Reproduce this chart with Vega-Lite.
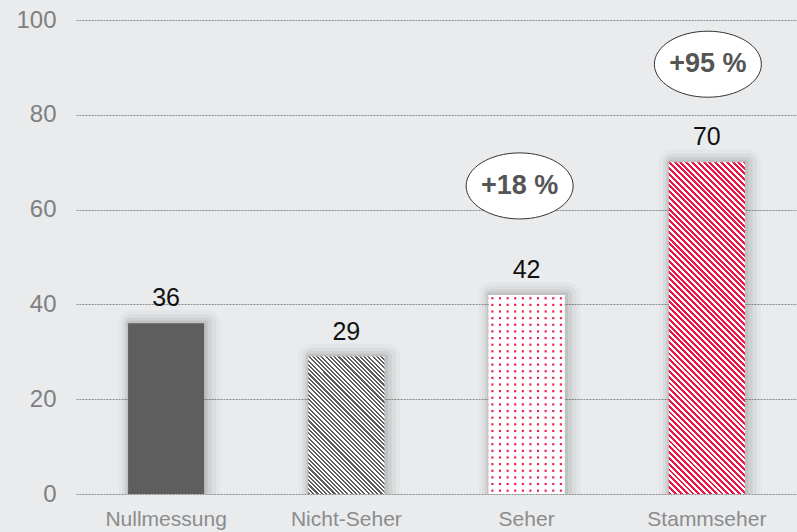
{
 "$schema": "https://vega.github.io/schema/vega-lite/v6.json",
 "width": 721, "height": 474,
 "autosize": {"type": "none"},
 "padding": {"left": 76, "top": 20, "right": 0, "bottom": 38},
 "background": "#e9ebed",
 "config": {"view": {"stroke": null}, "font": "Liberation Sans"},
 "datasets": {
  "balken": [
   {"gruppe": "Nullmessung", "wert": 36},
   {"gruppe": "Nicht-Seher", "wert": 29},
   {"gruppe": "Seher", "wert": 42},
   {"gruppe": "Stammseher", "wert": 70}
  ],
  "anstieg": [
   {"gruppe": "Seher", "wert": 42, "anstieg": "+18 %"},
   {"gruppe": "Stammseher", "wert": 70, "anstieg": "+95 %"}
  ]
 },
 "data": {"name": "balken"},
 "encoding": {
  "x": {"field": "gruppe", "type": "nominal",
   "scale": {"domain": ["Nullmessung", "Nicht-Seher", "Seher", "Stammseher"], "paddingInner": 0.578, "paddingOuter": 0.289},
   "axis": {"title": null, "domain": false, "ticks": false, "labelFontSize": 21, "labelColor": "#8c8c8c", "labelPadding": 14, "labelAngle": 0, "labelFont": "Liberation Sans"}},
  "y": {"field": "wert", "type": "quantitative",
   "scale": {"domain": [0, 100], "nice": false},
   "axis": {"title": null, "domain": false, "ticks": false, "values": [0, 20, 40, 60, 80, 100], "labelFontSize": 24, "labelColor": "#808080", "labelPadding": 20, "labelFont": "Liberation Sans", "gridColor": "#8a8a8a", "gridDash": [2, 1], "gridWidth": 1, "gridOpacity": 1}}
 },
 "layer": [
  {"mark": {"type": "bar", "fillOpacity": 0, "stroke": "#000000", "strokeOpacity": 0.025, "strokeWidth": 26, "strokeJoin": "round", "clip": true, "xOffset": 3}},
  {"mark": {"type": "bar", "fillOpacity": 0, "stroke": "#000000", "strokeOpacity": 0.035, "strokeWidth": 18, "strokeJoin": "round", "clip": true, "xOffset": 3}},
  {"mark": {"type": "bar", "fillOpacity": 0, "stroke": "#000000", "strokeOpacity": 0.05, "strokeWidth": 11, "strokeJoin": "round", "clip": true, "xOffset": 2}},
  {"mark": {"type": "bar", "fillOpacity": 0, "stroke": "#000000", "strokeOpacity": 0.07, "strokeWidth": 5, "strokeJoin": "round", "clip": true, "xOffset": 1}},
  {"transform": [{"filter": "datum.gruppe === 'Nullmessung'"}], "mark": {"type": "bar", "color": "#5e5e5e"}},
  {"transform": [{"filter": "datum.gruppe === 'Nicht-Seher'"}], "mark": {"type": "bar", "fill": {"gradient": "linear", "x1": 0, "y1": 1, "x2": 0.6581, "y2": -0.1892, "stops": [
   {"offset":0,"color":"#5c5c5c"},{"offset":0.01,"color":"#5c5c5c"},{"offset":0.01,"color":"#ffffff"},{"offset":0.02,"color":"#ffffff"},{"offset":0.02,"color":"#5c5c5c"},{"offset":0.03,"color":"#5c5c5c"},{"offset":0.03,"color":"#ffffff"},{"offset":0.04,"color":"#ffffff"},{"offset":0.04,"color":"#5c5c5c"},{"offset":0.05,"color":"#5c5c5c"},{"offset":0.05,"color":"#ffffff"},{"offset":0.06,"color":"#ffffff"},{"offset":0.06,"color":"#5c5c5c"},{"offset":0.07,"color":"#5c5c5c"},{"offset":0.07,"color":"#ffffff"},{"offset":0.08,"color":"#ffffff"},{"offset":0.08,"color":"#5c5c5c"},{"offset":0.09,"color":"#5c5c5c"},{"offset":0.09,"color":"#ffffff"},{"offset":0.1,"color":"#ffffff"},
   {"offset":0.1,"color":"#5c5c5c"},{"offset":0.11,"color":"#5c5c5c"},{"offset":0.11,"color":"#ffffff"},{"offset":0.12,"color":"#ffffff"},{"offset":0.12,"color":"#5c5c5c"},{"offset":0.13,"color":"#5c5c5c"},{"offset":0.13,"color":"#ffffff"},{"offset":0.14,"color":"#ffffff"},{"offset":0.14,"color":"#5c5c5c"},{"offset":0.15,"color":"#5c5c5c"},{"offset":0.15,"color":"#ffffff"},{"offset":0.16,"color":"#ffffff"},{"offset":0.16,"color":"#5c5c5c"},{"offset":0.17,"color":"#5c5c5c"},{"offset":0.17,"color":"#ffffff"},{"offset":0.18,"color":"#ffffff"},{"offset":0.18,"color":"#5c5c5c"},{"offset":0.19,"color":"#5c5c5c"},{"offset":0.19,"color":"#ffffff"},{"offset":0.2,"color":"#ffffff"},
   {"offset":0.2,"color":"#5c5c5c"},{"offset":0.21,"color":"#5c5c5c"},{"offset":0.21,"color":"#ffffff"},{"offset":0.22,"color":"#ffffff"},{"offset":0.22,"color":"#5c5c5c"},{"offset":0.23,"color":"#5c5c5c"},{"offset":0.23,"color":"#ffffff"},{"offset":0.24,"color":"#ffffff"},{"offset":0.24,"color":"#5c5c5c"},{"offset":0.25,"color":"#5c5c5c"},{"offset":0.25,"color":"#ffffff"},{"offset":0.26,"color":"#ffffff"},{"offset":0.26,"color":"#5c5c5c"},{"offset":0.27,"color":"#5c5c5c"},{"offset":0.27,"color":"#ffffff"},{"offset":0.28,"color":"#ffffff"},{"offset":0.28,"color":"#5c5c5c"},{"offset":0.29,"color":"#5c5c5c"},{"offset":0.29,"color":"#ffffff"},{"offset":0.3,"color":"#ffffff"},
   {"offset":0.3,"color":"#5c5c5c"},{"offset":0.31,"color":"#5c5c5c"},{"offset":0.31,"color":"#ffffff"},{"offset":0.32,"color":"#ffffff"},{"offset":0.32,"color":"#5c5c5c"},{"offset":0.33,"color":"#5c5c5c"},{"offset":0.33,"color":"#ffffff"},{"offset":0.34,"color":"#ffffff"},{"offset":0.34,"color":"#5c5c5c"},{"offset":0.35,"color":"#5c5c5c"},{"offset":0.35,"color":"#ffffff"},{"offset":0.36,"color":"#ffffff"},{"offset":0.36,"color":"#5c5c5c"},{"offset":0.37,"color":"#5c5c5c"},{"offset":0.37,"color":"#ffffff"},{"offset":0.38,"color":"#ffffff"},{"offset":0.38,"color":"#5c5c5c"},{"offset":0.39,"color":"#5c5c5c"},{"offset":0.39,"color":"#ffffff"},{"offset":0.4,"color":"#ffffff"},
   {"offset":0.4,"color":"#5c5c5c"},{"offset":0.41,"color":"#5c5c5c"},{"offset":0.41,"color":"#ffffff"},{"offset":0.42,"color":"#ffffff"},{"offset":0.42,"color":"#5c5c5c"},{"offset":0.43,"color":"#5c5c5c"},{"offset":0.43,"color":"#ffffff"},{"offset":0.44,"color":"#ffffff"},{"offset":0.44,"color":"#5c5c5c"},{"offset":0.45,"color":"#5c5c5c"},{"offset":0.45,"color":"#ffffff"},{"offset":0.46,"color":"#ffffff"},{"offset":0.46,"color":"#5c5c5c"},{"offset":0.47,"color":"#5c5c5c"},{"offset":0.47,"color":"#ffffff"},{"offset":0.48,"color":"#ffffff"},{"offset":0.48,"color":"#5c5c5c"},{"offset":0.49,"color":"#5c5c5c"},{"offset":0.49,"color":"#ffffff"},{"offset":0.5,"color":"#ffffff"},
   {"offset":0.5,"color":"#5c5c5c"},{"offset":0.51,"color":"#5c5c5c"},{"offset":0.51,"color":"#ffffff"},{"offset":0.52,"color":"#ffffff"},{"offset":0.52,"color":"#5c5c5c"},{"offset":0.53,"color":"#5c5c5c"},{"offset":0.53,"color":"#ffffff"},{"offset":0.54,"color":"#ffffff"},{"offset":0.54,"color":"#5c5c5c"},{"offset":0.55,"color":"#5c5c5c"},{"offset":0.55,"color":"#ffffff"},{"offset":0.56,"color":"#ffffff"},{"offset":0.56,"color":"#5c5c5c"},{"offset":0.57,"color":"#5c5c5c"},{"offset":0.57,"color":"#ffffff"},{"offset":0.58,"color":"#ffffff"},{"offset":0.58,"color":"#5c5c5c"},{"offset":0.59,"color":"#5c5c5c"},{"offset":0.59,"color":"#ffffff"},{"offset":0.6,"color":"#ffffff"},
   {"offset":0.6,"color":"#5c5c5c"},{"offset":0.61,"color":"#5c5c5c"},{"offset":0.61,"color":"#ffffff"},{"offset":0.62,"color":"#ffffff"},{"offset":0.62,"color":"#5c5c5c"},{"offset":0.63,"color":"#5c5c5c"},{"offset":0.63,"color":"#ffffff"},{"offset":0.64,"color":"#ffffff"},{"offset":0.64,"color":"#5c5c5c"},{"offset":0.65,"color":"#5c5c5c"},{"offset":0.65,"color":"#ffffff"},{"offset":0.66,"color":"#ffffff"},{"offset":0.66,"color":"#5c5c5c"},{"offset":0.67,"color":"#5c5c5c"},{"offset":0.67,"color":"#ffffff"},{"offset":0.68,"color":"#ffffff"},{"offset":0.68,"color":"#5c5c5c"},{"offset":0.69,"color":"#5c5c5c"},{"offset":0.69,"color":"#ffffff"},{"offset":0.7,"color":"#ffffff"},
   {"offset":0.7,"color":"#5c5c5c"},{"offset":0.71,"color":"#5c5c5c"},{"offset":0.71,"color":"#ffffff"},{"offset":0.72,"color":"#ffffff"},{"offset":0.72,"color":"#5c5c5c"},{"offset":0.73,"color":"#5c5c5c"},{"offset":0.73,"color":"#ffffff"},{"offset":0.74,"color":"#ffffff"},{"offset":0.74,"color":"#5c5c5c"},{"offset":0.75,"color":"#5c5c5c"},{"offset":0.75,"color":"#ffffff"},{"offset":0.76,"color":"#ffffff"},{"offset":0.76,"color":"#5c5c5c"},{"offset":0.77,"color":"#5c5c5c"},{"offset":0.77,"color":"#ffffff"},{"offset":0.78,"color":"#ffffff"},{"offset":0.78,"color":"#5c5c5c"},{"offset":0.79,"color":"#5c5c5c"},{"offset":0.79,"color":"#ffffff"},{"offset":0.8,"color":"#ffffff"},
   {"offset":0.8,"color":"#5c5c5c"},{"offset":0.81,"color":"#5c5c5c"},{"offset":0.81,"color":"#ffffff"},{"offset":0.82,"color":"#ffffff"},{"offset":0.82,"color":"#5c5c5c"},{"offset":0.83,"color":"#5c5c5c"},{"offset":0.83,"color":"#ffffff"},{"offset":0.84,"color":"#ffffff"},{"offset":0.84,"color":"#5c5c5c"},{"offset":0.85,"color":"#5c5c5c"},{"offset":0.85,"color":"#ffffff"},{"offset":0.86,"color":"#ffffff"},{"offset":0.86,"color":"#5c5c5c"},{"offset":0.87,"color":"#5c5c5c"},{"offset":0.87,"color":"#ffffff"},{"offset":0.88,"color":"#ffffff"},{"offset":0.88,"color":"#5c5c5c"},{"offset":0.89,"color":"#5c5c5c"},{"offset":0.89,"color":"#ffffff"},{"offset":0.9,"color":"#ffffff"},
   {"offset":0.9,"color":"#5c5c5c"},{"offset":0.91,"color":"#5c5c5c"},{"offset":0.91,"color":"#ffffff"},{"offset":0.92,"color":"#ffffff"},{"offset":0.92,"color":"#5c5c5c"},{"offset":0.93,"color":"#5c5c5c"},{"offset":0.93,"color":"#ffffff"},{"offset":0.94,"color":"#ffffff"},{"offset":0.94,"color":"#5c5c5c"},{"offset":0.95,"color":"#5c5c5c"},{"offset":0.95,"color":"#ffffff"},{"offset":0.96,"color":"#ffffff"},{"offset":0.96,"color":"#5c5c5c"},{"offset":0.97,"color":"#5c5c5c"},{"offset":0.97,"color":"#ffffff"},{"offset":0.98,"color":"#ffffff"},{"offset":0.98,"color":"#5c5c5c"},{"offset":0.99,"color":"#5c5c5c"},{"offset":0.99,"color":"#ffffff"},{"offset":1,"color":"#ffffff"}
  ]}}},
  {"transform": [{"filter": "datum.gruppe === 'Seher'"}], "mark": {"type": "bar", "fill": {"gradient": "linear", "x1": 0, "y1": 0, "x2": 1, "y2": 0, "stops": [
   {"offset":0,"color":"#ffffff"},
   {"offset":0.03,"color":"#ffffff"},{"offset":0.042,"color":"#f01e50"},{"offset":0.058,"color":"#f01e50"},{"offset":0.07,"color":"#ffffff"},
   {"offset":0.13,"color":"#ffffff"},{"offset":0.142,"color":"#f01e50"},{"offset":0.158,"color":"#f01e50"},{"offset":0.17,"color":"#ffffff"},
   {"offset":0.23,"color":"#ffffff"},{"offset":0.242,"color":"#f01e50"},{"offset":0.258,"color":"#f01e50"},{"offset":0.27,"color":"#ffffff"},
   {"offset":0.33,"color":"#ffffff"},{"offset":0.342,"color":"#f01e50"},{"offset":0.358,"color":"#f01e50"},{"offset":0.37,"color":"#ffffff"},
   {"offset":0.43,"color":"#ffffff"},{"offset":0.442,"color":"#f01e50"},{"offset":0.458,"color":"#f01e50"},{"offset":0.47,"color":"#ffffff"},
   {"offset":0.53,"color":"#ffffff"},{"offset":0.542,"color":"#f01e50"},{"offset":0.558,"color":"#f01e50"},{"offset":0.57,"color":"#ffffff"},
   {"offset":0.63,"color":"#ffffff"},{"offset":0.642,"color":"#f01e50"},{"offset":0.658,"color":"#f01e50"},{"offset":0.67,"color":"#ffffff"},
   {"offset":0.73,"color":"#ffffff"},{"offset":0.742,"color":"#f01e50"},{"offset":0.758,"color":"#f01e50"},{"offset":0.77,"color":"#ffffff"},
   {"offset":0.83,"color":"#ffffff"},{"offset":0.842,"color":"#f01e50"},{"offset":0.858,"color":"#f01e50"},{"offset":0.87,"color":"#ffffff"},
   {"offset":0.93,"color":"#ffffff"},{"offset":0.942,"color":"#f01e50"},{"offset":0.958,"color":"#f01e50"},{"offset":0.97,"color":"#ffffff"},
   {"offset":1,"color":"#ffffff"}
  ]}}},
  {"transform": [{"filter": "datum.gruppe === 'Seher'"}], "mark": {"type": "bar", "fill": {"gradient": "linear", "x1": 0, "y1": 0, "x2": 0, "y2": 1, "stops": [
   {"offset":0,"color":"rgba(255,255,255,1)"},
   {"offset":0.0087,"color":"rgba(255,255,255,1)"},{"offset":0.0137,"color":"rgba(255,255,255,0)"},{"offset":0.0197,"color":"rgba(255,255,255,0)"},{"offset":0.0247,"color":"rgba(255,255,255,1)"},
   {"offset":0.042,"color":"rgba(255,255,255,1)"},{"offset":0.047,"color":"rgba(255,255,255,0)"},{"offset":0.053,"color":"rgba(255,255,255,0)"},{"offset":0.058,"color":"rgba(255,255,255,1)"},
   {"offset":0.0753,"color":"rgba(255,255,255,1)"},{"offset":0.0803,"color":"rgba(255,255,255,0)"},{"offset":0.0863,"color":"rgba(255,255,255,0)"},{"offset":0.0913,"color":"rgba(255,255,255,1)"},
   {"offset":0.1087,"color":"rgba(255,255,255,1)"},{"offset":0.1137,"color":"rgba(255,255,255,0)"},{"offset":0.1197,"color":"rgba(255,255,255,0)"},{"offset":0.1247,"color":"rgba(255,255,255,1)"},
   {"offset":0.142,"color":"rgba(255,255,255,1)"},{"offset":0.147,"color":"rgba(255,255,255,0)"},{"offset":0.153,"color":"rgba(255,255,255,0)"},{"offset":0.158,"color":"rgba(255,255,255,1)"},
   {"offset":0.1753,"color":"rgba(255,255,255,1)"},{"offset":0.1803,"color":"rgba(255,255,255,0)"},{"offset":0.1863,"color":"rgba(255,255,255,0)"},{"offset":0.1913,"color":"rgba(255,255,255,1)"},
   {"offset":0.2087,"color":"rgba(255,255,255,1)"},{"offset":0.2137,"color":"rgba(255,255,255,0)"},{"offset":0.2197,"color":"rgba(255,255,255,0)"},{"offset":0.2247,"color":"rgba(255,255,255,1)"},
   {"offset":0.242,"color":"rgba(255,255,255,1)"},{"offset":0.247,"color":"rgba(255,255,255,0)"},{"offset":0.253,"color":"rgba(255,255,255,0)"},{"offset":0.258,"color":"rgba(255,255,255,1)"},
   {"offset":0.2753,"color":"rgba(255,255,255,1)"},{"offset":0.2803,"color":"rgba(255,255,255,0)"},{"offset":0.2863,"color":"rgba(255,255,255,0)"},{"offset":0.2913,"color":"rgba(255,255,255,1)"},
   {"offset":0.3087,"color":"rgba(255,255,255,1)"},{"offset":0.3137,"color":"rgba(255,255,255,0)"},{"offset":0.3197,"color":"rgba(255,255,255,0)"},{"offset":0.3247,"color":"rgba(255,255,255,1)"},
   {"offset":0.342,"color":"rgba(255,255,255,1)"},{"offset":0.347,"color":"rgba(255,255,255,0)"},{"offset":0.353,"color":"rgba(255,255,255,0)"},{"offset":0.358,"color":"rgba(255,255,255,1)"},
   {"offset":0.3753,"color":"rgba(255,255,255,1)"},{"offset":0.3803,"color":"rgba(255,255,255,0)"},{"offset":0.3863,"color":"rgba(255,255,255,0)"},{"offset":0.3913,"color":"rgba(255,255,255,1)"},
   {"offset":0.4087,"color":"rgba(255,255,255,1)"},{"offset":0.4137,"color":"rgba(255,255,255,0)"},{"offset":0.4197,"color":"rgba(255,255,255,0)"},{"offset":0.4247,"color":"rgba(255,255,255,1)"},
   {"offset":0.442,"color":"rgba(255,255,255,1)"},{"offset":0.447,"color":"rgba(255,255,255,0)"},{"offset":0.453,"color":"rgba(255,255,255,0)"},{"offset":0.458,"color":"rgba(255,255,255,1)"},
   {"offset":0.4753,"color":"rgba(255,255,255,1)"},{"offset":0.4803,"color":"rgba(255,255,255,0)"},{"offset":0.4863,"color":"rgba(255,255,255,0)"},{"offset":0.4913,"color":"rgba(255,255,255,1)"},
   {"offset":0.5087,"color":"rgba(255,255,255,1)"},{"offset":0.5137,"color":"rgba(255,255,255,0)"},{"offset":0.5197,"color":"rgba(255,255,255,0)"},{"offset":0.5247,"color":"rgba(255,255,255,1)"},
   {"offset":0.542,"color":"rgba(255,255,255,1)"},{"offset":0.547,"color":"rgba(255,255,255,0)"},{"offset":0.553,"color":"rgba(255,255,255,0)"},{"offset":0.558,"color":"rgba(255,255,255,1)"},
   {"offset":0.5753,"color":"rgba(255,255,255,1)"},{"offset":0.5803,"color":"rgba(255,255,255,0)"},{"offset":0.5863,"color":"rgba(255,255,255,0)"},{"offset":0.5913,"color":"rgba(255,255,255,1)"},
   {"offset":0.6087,"color":"rgba(255,255,255,1)"},{"offset":0.6137,"color":"rgba(255,255,255,0)"},{"offset":0.6197,"color":"rgba(255,255,255,0)"},{"offset":0.6247,"color":"rgba(255,255,255,1)"},
   {"offset":0.642,"color":"rgba(255,255,255,1)"},{"offset":0.647,"color":"rgba(255,255,255,0)"},{"offset":0.653,"color":"rgba(255,255,255,0)"},{"offset":0.658,"color":"rgba(255,255,255,1)"},
   {"offset":0.6753,"color":"rgba(255,255,255,1)"},{"offset":0.6803,"color":"rgba(255,255,255,0)"},{"offset":0.6863,"color":"rgba(255,255,255,0)"},{"offset":0.6913,"color":"rgba(255,255,255,1)"},
   {"offset":0.7087,"color":"rgba(255,255,255,1)"},{"offset":0.7137,"color":"rgba(255,255,255,0)"},{"offset":0.7197,"color":"rgba(255,255,255,0)"},{"offset":0.7247,"color":"rgba(255,255,255,1)"},
   {"offset":0.742,"color":"rgba(255,255,255,1)"},{"offset":0.747,"color":"rgba(255,255,255,0)"},{"offset":0.753,"color":"rgba(255,255,255,0)"},{"offset":0.758,"color":"rgba(255,255,255,1)"},
   {"offset":0.7753,"color":"rgba(255,255,255,1)"},{"offset":0.7803,"color":"rgba(255,255,255,0)"},{"offset":0.7863,"color":"rgba(255,255,255,0)"},{"offset":0.7913,"color":"rgba(255,255,255,1)"},
   {"offset":0.8087,"color":"rgba(255,255,255,1)"},{"offset":0.8137,"color":"rgba(255,255,255,0)"},{"offset":0.8197,"color":"rgba(255,255,255,0)"},{"offset":0.8247,"color":"rgba(255,255,255,1)"},
   {"offset":0.842,"color":"rgba(255,255,255,1)"},{"offset":0.847,"color":"rgba(255,255,255,0)"},{"offset":0.853,"color":"rgba(255,255,255,0)"},{"offset":0.858,"color":"rgba(255,255,255,1)"},
   {"offset":0.8753,"color":"rgba(255,255,255,1)"},{"offset":0.8803,"color":"rgba(255,255,255,0)"},{"offset":0.8863,"color":"rgba(255,255,255,0)"},{"offset":0.8913,"color":"rgba(255,255,255,1)"},
   {"offset":0.9087,"color":"rgba(255,255,255,1)"},{"offset":0.9137,"color":"rgba(255,255,255,0)"},{"offset":0.9197,"color":"rgba(255,255,255,0)"},{"offset":0.9247,"color":"rgba(255,255,255,1)"},
   {"offset":0.942,"color":"rgba(255,255,255,1)"},{"offset":0.947,"color":"rgba(255,255,255,0)"},{"offset":0.953,"color":"rgba(255,255,255,0)"},{"offset":0.958,"color":"rgba(255,255,255,1)"},
   {"offset":0.9753,"color":"rgba(255,255,255,1)"},{"offset":0.9803,"color":"rgba(255,255,255,0)"},{"offset":0.9863,"color":"rgba(255,255,255,0)"},{"offset":0.9913,"color":"rgba(255,255,255,1)"},
   {"offset":1,"color":"rgba(255,255,255,1)"}
  ]}}},
  {"transform": [{"filter": "datum.gruppe === 'Stammseher'"}], "mark": {"type": "bar", "fill": {"gradient": "linear", "x1": 0, "y1": 1, "x2": 0.3806, "y2": -0.6603, "stops": [
   {"offset":0,"color":"#ee1446"},{"offset":0.005,"color":"#ee1446"},{"offset":0.005,"color":"#ffffff"},{"offset":0.01,"color":"#ffffff"},{"offset":0.01,"color":"#ee1446"},{"offset":0.015,"color":"#ee1446"},{"offset":0.015,"color":"#ffffff"},{"offset":0.02,"color":"#ffffff"},{"offset":0.02,"color":"#ee1446"},{"offset":0.025,"color":"#ee1446"},{"offset":0.025,"color":"#ffffff"},{"offset":0.03,"color":"#ffffff"},{"offset":0.03,"color":"#ee1446"},{"offset":0.035,"color":"#ee1446"},{"offset":0.035,"color":"#ffffff"},{"offset":0.04,"color":"#ffffff"},{"offset":0.04,"color":"#ee1446"},{"offset":0.045,"color":"#ee1446"},{"offset":0.045,"color":"#ffffff"},{"offset":0.05,"color":"#ffffff"},
   {"offset":0.05,"color":"#ee1446"},{"offset":0.055,"color":"#ee1446"},{"offset":0.055,"color":"#ffffff"},{"offset":0.06,"color":"#ffffff"},{"offset":0.06,"color":"#ee1446"},{"offset":0.065,"color":"#ee1446"},{"offset":0.065,"color":"#ffffff"},{"offset":0.07,"color":"#ffffff"},{"offset":0.07,"color":"#ee1446"},{"offset":0.075,"color":"#ee1446"},{"offset":0.075,"color":"#ffffff"},{"offset":0.08,"color":"#ffffff"},{"offset":0.08,"color":"#ee1446"},{"offset":0.085,"color":"#ee1446"},{"offset":0.085,"color":"#ffffff"},{"offset":0.09,"color":"#ffffff"},{"offset":0.09,"color":"#ee1446"},{"offset":0.095,"color":"#ee1446"},{"offset":0.095,"color":"#ffffff"},{"offset":0.1,"color":"#ffffff"},
   {"offset":0.1,"color":"#ee1446"},{"offset":0.105,"color":"#ee1446"},{"offset":0.105,"color":"#ffffff"},{"offset":0.11,"color":"#ffffff"},{"offset":0.11,"color":"#ee1446"},{"offset":0.115,"color":"#ee1446"},{"offset":0.115,"color":"#ffffff"},{"offset":0.12,"color":"#ffffff"},{"offset":0.12,"color":"#ee1446"},{"offset":0.125,"color":"#ee1446"},{"offset":0.125,"color":"#ffffff"},{"offset":0.13,"color":"#ffffff"},{"offset":0.13,"color":"#ee1446"},{"offset":0.135,"color":"#ee1446"},{"offset":0.135,"color":"#ffffff"},{"offset":0.14,"color":"#ffffff"},{"offset":0.14,"color":"#ee1446"},{"offset":0.145,"color":"#ee1446"},{"offset":0.145,"color":"#ffffff"},{"offset":0.15,"color":"#ffffff"},
   {"offset":0.15,"color":"#ee1446"},{"offset":0.155,"color":"#ee1446"},{"offset":0.155,"color":"#ffffff"},{"offset":0.16,"color":"#ffffff"},{"offset":0.16,"color":"#ee1446"},{"offset":0.165,"color":"#ee1446"},{"offset":0.165,"color":"#ffffff"},{"offset":0.17,"color":"#ffffff"},{"offset":0.17,"color":"#ee1446"},{"offset":0.175,"color":"#ee1446"},{"offset":0.175,"color":"#ffffff"},{"offset":0.18,"color":"#ffffff"},{"offset":0.18,"color":"#ee1446"},{"offset":0.185,"color":"#ee1446"},{"offset":0.185,"color":"#ffffff"},{"offset":0.19,"color":"#ffffff"},{"offset":0.19,"color":"#ee1446"},{"offset":0.195,"color":"#ee1446"},{"offset":0.195,"color":"#ffffff"},{"offset":0.2,"color":"#ffffff"},
   {"offset":0.2,"color":"#ee1446"},{"offset":0.205,"color":"#ee1446"},{"offset":0.205,"color":"#ffffff"},{"offset":0.21,"color":"#ffffff"},{"offset":0.21,"color":"#ee1446"},{"offset":0.215,"color":"#ee1446"},{"offset":0.215,"color":"#ffffff"},{"offset":0.22,"color":"#ffffff"},{"offset":0.22,"color":"#ee1446"},{"offset":0.225,"color":"#ee1446"},{"offset":0.225,"color":"#ffffff"},{"offset":0.23,"color":"#ffffff"},{"offset":0.23,"color":"#ee1446"},{"offset":0.235,"color":"#ee1446"},{"offset":0.235,"color":"#ffffff"},{"offset":0.24,"color":"#ffffff"},{"offset":0.24,"color":"#ee1446"},{"offset":0.245,"color":"#ee1446"},{"offset":0.245,"color":"#ffffff"},{"offset":0.25,"color":"#ffffff"},
   {"offset":0.25,"color":"#ee1446"},{"offset":0.255,"color":"#ee1446"},{"offset":0.255,"color":"#ffffff"},{"offset":0.26,"color":"#ffffff"},{"offset":0.26,"color":"#ee1446"},{"offset":0.265,"color":"#ee1446"},{"offset":0.265,"color":"#ffffff"},{"offset":0.27,"color":"#ffffff"},{"offset":0.27,"color":"#ee1446"},{"offset":0.275,"color":"#ee1446"},{"offset":0.275,"color":"#ffffff"},{"offset":0.28,"color":"#ffffff"},{"offset":0.28,"color":"#ee1446"},{"offset":0.285,"color":"#ee1446"},{"offset":0.285,"color":"#ffffff"},{"offset":0.29,"color":"#ffffff"},{"offset":0.29,"color":"#ee1446"},{"offset":0.295,"color":"#ee1446"},{"offset":0.295,"color":"#ffffff"},{"offset":0.3,"color":"#ffffff"},
   {"offset":0.3,"color":"#ee1446"},{"offset":0.305,"color":"#ee1446"},{"offset":0.305,"color":"#ffffff"},{"offset":0.31,"color":"#ffffff"},{"offset":0.31,"color":"#ee1446"},{"offset":0.315,"color":"#ee1446"},{"offset":0.315,"color":"#ffffff"},{"offset":0.32,"color":"#ffffff"},{"offset":0.32,"color":"#ee1446"},{"offset":0.325,"color":"#ee1446"},{"offset":0.325,"color":"#ffffff"},{"offset":0.33,"color":"#ffffff"},{"offset":0.33,"color":"#ee1446"},{"offset":0.335,"color":"#ee1446"},{"offset":0.335,"color":"#ffffff"},{"offset":0.34,"color":"#ffffff"},{"offset":0.34,"color":"#ee1446"},{"offset":0.345,"color":"#ee1446"},{"offset":0.345,"color":"#ffffff"},{"offset":0.35,"color":"#ffffff"},
   {"offset":0.35,"color":"#ee1446"},{"offset":0.355,"color":"#ee1446"},{"offset":0.355,"color":"#ffffff"},{"offset":0.36,"color":"#ffffff"},{"offset":0.36,"color":"#ee1446"},{"offset":0.365,"color":"#ee1446"},{"offset":0.365,"color":"#ffffff"},{"offset":0.37,"color":"#ffffff"},{"offset":0.37,"color":"#ee1446"},{"offset":0.375,"color":"#ee1446"},{"offset":0.375,"color":"#ffffff"},{"offset":0.38,"color":"#ffffff"},{"offset":0.38,"color":"#ee1446"},{"offset":0.385,"color":"#ee1446"},{"offset":0.385,"color":"#ffffff"},{"offset":0.39,"color":"#ffffff"},{"offset":0.39,"color":"#ee1446"},{"offset":0.395,"color":"#ee1446"},{"offset":0.395,"color":"#ffffff"},{"offset":0.4,"color":"#ffffff"},
   {"offset":0.4,"color":"#ee1446"},{"offset":0.405,"color":"#ee1446"},{"offset":0.405,"color":"#ffffff"},{"offset":0.41,"color":"#ffffff"},{"offset":0.41,"color":"#ee1446"},{"offset":0.415,"color":"#ee1446"},{"offset":0.415,"color":"#ffffff"},{"offset":0.42,"color":"#ffffff"},{"offset":0.42,"color":"#ee1446"},{"offset":0.425,"color":"#ee1446"},{"offset":0.425,"color":"#ffffff"},{"offset":0.43,"color":"#ffffff"},{"offset":0.43,"color":"#ee1446"},{"offset":0.435,"color":"#ee1446"},{"offset":0.435,"color":"#ffffff"},{"offset":0.44,"color":"#ffffff"},{"offset":0.44,"color":"#ee1446"},{"offset":0.445,"color":"#ee1446"},{"offset":0.445,"color":"#ffffff"},{"offset":0.45,"color":"#ffffff"},
   {"offset":0.45,"color":"#ee1446"},{"offset":0.455,"color":"#ee1446"},{"offset":0.455,"color":"#ffffff"},{"offset":0.46,"color":"#ffffff"},{"offset":0.46,"color":"#ee1446"},{"offset":0.465,"color":"#ee1446"},{"offset":0.465,"color":"#ffffff"},{"offset":0.47,"color":"#ffffff"},{"offset":0.47,"color":"#ee1446"},{"offset":0.475,"color":"#ee1446"},{"offset":0.475,"color":"#ffffff"},{"offset":0.48,"color":"#ffffff"},{"offset":0.48,"color":"#ee1446"},{"offset":0.485,"color":"#ee1446"},{"offset":0.485,"color":"#ffffff"},{"offset":0.49,"color":"#ffffff"},{"offset":0.49,"color":"#ee1446"},{"offset":0.495,"color":"#ee1446"},{"offset":0.495,"color":"#ffffff"},{"offset":0.5,"color":"#ffffff"},
   {"offset":0.5,"color":"#ee1446"},{"offset":0.505,"color":"#ee1446"},{"offset":0.505,"color":"#ffffff"},{"offset":0.51,"color":"#ffffff"},{"offset":0.51,"color":"#ee1446"},{"offset":0.515,"color":"#ee1446"},{"offset":0.515,"color":"#ffffff"},{"offset":0.52,"color":"#ffffff"},{"offset":0.52,"color":"#ee1446"},{"offset":0.525,"color":"#ee1446"},{"offset":0.525,"color":"#ffffff"},{"offset":0.53,"color":"#ffffff"},{"offset":0.53,"color":"#ee1446"},{"offset":0.535,"color":"#ee1446"},{"offset":0.535,"color":"#ffffff"},{"offset":0.54,"color":"#ffffff"},{"offset":0.54,"color":"#ee1446"},{"offset":0.545,"color":"#ee1446"},{"offset":0.545,"color":"#ffffff"},{"offset":0.55,"color":"#ffffff"},
   {"offset":0.55,"color":"#ee1446"},{"offset":0.555,"color":"#ee1446"},{"offset":0.555,"color":"#ffffff"},{"offset":0.56,"color":"#ffffff"},{"offset":0.56,"color":"#ee1446"},{"offset":0.565,"color":"#ee1446"},{"offset":0.565,"color":"#ffffff"},{"offset":0.57,"color":"#ffffff"},{"offset":0.57,"color":"#ee1446"},{"offset":0.575,"color":"#ee1446"},{"offset":0.575,"color":"#ffffff"},{"offset":0.58,"color":"#ffffff"},{"offset":0.58,"color":"#ee1446"},{"offset":0.585,"color":"#ee1446"},{"offset":0.585,"color":"#ffffff"},{"offset":0.59,"color":"#ffffff"},{"offset":0.59,"color":"#ee1446"},{"offset":0.595,"color":"#ee1446"},{"offset":0.595,"color":"#ffffff"},{"offset":0.6,"color":"#ffffff"},
   {"offset":0.6,"color":"#ee1446"},{"offset":0.605,"color":"#ee1446"},{"offset":0.605,"color":"#ffffff"},{"offset":0.61,"color":"#ffffff"},{"offset":0.61,"color":"#ee1446"},{"offset":0.615,"color":"#ee1446"},{"offset":0.615,"color":"#ffffff"},{"offset":0.62,"color":"#ffffff"},{"offset":0.62,"color":"#ee1446"},{"offset":0.625,"color":"#ee1446"},{"offset":0.625,"color":"#ffffff"},{"offset":0.63,"color":"#ffffff"},{"offset":0.63,"color":"#ee1446"},{"offset":0.635,"color":"#ee1446"},{"offset":0.635,"color":"#ffffff"},{"offset":0.64,"color":"#ffffff"},{"offset":0.64,"color":"#ee1446"},{"offset":0.645,"color":"#ee1446"},{"offset":0.645,"color":"#ffffff"},{"offset":0.65,"color":"#ffffff"},
   {"offset":0.65,"color":"#ee1446"},{"offset":0.655,"color":"#ee1446"},{"offset":0.655,"color":"#ffffff"},{"offset":0.66,"color":"#ffffff"},{"offset":0.66,"color":"#ee1446"},{"offset":0.665,"color":"#ee1446"},{"offset":0.665,"color":"#ffffff"},{"offset":0.67,"color":"#ffffff"},{"offset":0.67,"color":"#ee1446"},{"offset":0.675,"color":"#ee1446"},{"offset":0.675,"color":"#ffffff"},{"offset":0.68,"color":"#ffffff"},{"offset":0.68,"color":"#ee1446"},{"offset":0.685,"color":"#ee1446"},{"offset":0.685,"color":"#ffffff"},{"offset":0.69,"color":"#ffffff"},{"offset":0.69,"color":"#ee1446"},{"offset":0.695,"color":"#ee1446"},{"offset":0.695,"color":"#ffffff"},{"offset":0.7,"color":"#ffffff"},
   {"offset":0.7,"color":"#ee1446"},{"offset":0.705,"color":"#ee1446"},{"offset":0.705,"color":"#ffffff"},{"offset":0.71,"color":"#ffffff"}
  ]}}},
  {"mark": {"type": "text", "baseline": "alphabetic", "dy": -17, "fontSize": 25, "color": "#111111", "font": "Liberation Sans"},
   "encoding": {"text": {"field": "wert", "type": "quantitative"}}},
  {"data": {"name": "anstieg"}, "transform": [{"filter": "datum.gruppe === 'Seher'"}],
   "mark": {"type": "point", "shape": "M-1,0A1,0.617 0 1,1 1,0A1,0.617 0 1,1 -1,0Z", "size": 11449, "filled": true, "fill": "#ffffff", "fillOpacity": 1, "stroke": "#333333", "strokeWidth": 1, "opacity": 1, "xOffset": -7, "yOffset": -109}},
  {"data": {"name": "anstieg"}, "transform": [{"filter": "datum.gruppe === 'Seher'"}],
   "mark": {"type": "text", "baseline": "middle", "fontSize": 27, "fontWeight": "bold", "color": "#555555", "font": "Liberation Sans", "xOffset": -7, "yOffset": -109},
   "encoding": {"text": {"field": "anstieg", "type": "nominal"}}},
  {"data": {"name": "anstieg"}, "transform": [{"filter": "datum.gruppe === 'Stammseher'"}],
   "mark": {"type": "point", "shape": "M-1,0A1,0.617 0 1,1 1,0A1,0.617 0 1,1 -1,0Z", "size": 11449, "filled": true, "fill": "#ffffff", "fillOpacity": 1, "stroke": "#333333", "strokeWidth": 1, "opacity": 1, "xOffset": 1, "yOffset": -98}},
  {"data": {"name": "anstieg"}, "transform": [{"filter": "datum.gruppe === 'Stammseher'"}],
   "mark": {"type": "text", "baseline": "middle", "fontSize": 27, "fontWeight": "bold", "color": "#555555", "font": "Liberation Sans", "xOffset": 1, "yOffset": -98},
   "encoding": {"text": {"field": "anstieg", "type": "nominal"}}}
 ]
}
